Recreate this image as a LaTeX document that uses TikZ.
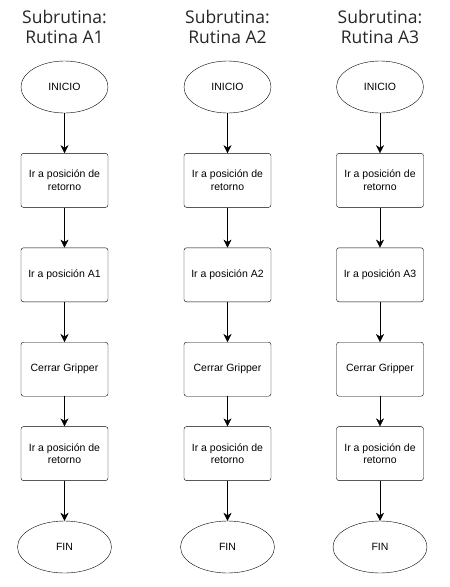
\documentclass[tikz,border=0pt]{standalone}
\usepackage{fontspec}
\setmainfont{Liberation Sans}
\newfontfamily\titlefont{Open Sans}
\usepackage{tikz}
\usetikzlibrary{positioning}
\usetikzlibrary{shapes,calc,arrows.meta}
\tikzset{
	-{Stealth[length=8pt,width=8pt,inset=2.5pt]},auto,node distance = 40pt,
	line width=1.5pt,
	term/.style ={ellipse, draw, minimum width = 87pt, minimum height = 52pt, inner sep=0pt,
	 font=\fontsize{10.5}{12}\selectfont},
	proc/.style = {rectangle, draw, rounded corners=2.5pt, minimum width = 87pt, minimum height = 54pt,
	 inner sep=0pt, align=center, font=\fontsize{10.5}{12.5}\selectfont},
	titulo/.style = {anchor=north, inner sep=0pt, align=center, text=black!85,
	 font=\titlefont\fontsize{17.5}{20}\selectfont},
}
\begin{document}
\begin{tikzpicture}[x=1pt, y=-1pt]
	\useasboundingbox (0,0) rectangle (450,587);
	% Rutina A1
	\node (Titulo1) [titulo] at (64.5,10) {Subrutina:\\Rutina A1};
	\node (Inicio1) [term] at (64.5,87) {INICIO};
	\node (Retorno1) [proc, below = of Inicio1] {Ir a posición de\\retorno};
	\node (Pos1) [proc, below = of Retorno1] {Ir a posición A1};
	\node (Gripper1) [proc, below = of Pos1] {Cerrar Gripper};
	\node (Vuelta1) [proc, below = 30pt of Gripper1] {Ir a posición de\\retorno};
	\node (Fin1) [term, minimum width = 94pt, below = of Vuelta1] {FIN};
	\path (Inicio1) edge (Retorno1);
	\path (Retorno1) edge (Pos1);
	\path (Pos1) edge (Gripper1);
	\path (Gripper1) edge (Vuelta1);
	\path (Vuelta1) edge (Fin1);
	% Rutina A2
	\node (Titulo2) [titulo] at (227.5,10) {Subrutina:\\Rutina A2};
	\node (Inicio2) [term] at (227.5,87) {INICIO};
	\node (Retorno2) [proc, below = of Inicio2] {Ir a posición de\\retorno};
	\node (Pos2) [proc, below = of Retorno2] {Ir a posición A2};
	\node (Gripper2) [proc, below = of Pos2] {Cerrar Gripper};
	\node (Vuelta2) [proc, below = 30pt of Gripper2] {Ir a posición de\\retorno};
	\node (Fin2) [term, minimum width = 94pt, below = of Vuelta2] {FIN};
	\path (Inicio2) edge (Retorno2);
	\path (Retorno2) edge (Pos2);
	\path (Pos2) edge (Gripper2);
	\path (Gripper2) edge (Vuelta2);
	\path (Vuelta2) edge (Fin2);
	% Rutina A3
	\node (Titulo3) [titulo] at (380,10) {Subrutina:\\Rutina A3};
	\node (Inicio3) [term] at (380,87) {INICIO};
	\node (Retorno3) [proc, below = of Inicio3] {Ir a posición de\\retorno};
	\node (Pos3) [proc, below = of Retorno3] {Ir a posición A3};
	\node (Gripper3) [proc, below = of Pos3] {Cerrar Gripper};
	\node (Vuelta3) [proc, below = 30pt of Gripper3] {Ir a posición de\\retorno};
	\node (Fin3) [term, minimum width = 94pt, below = of Vuelta3] {FIN};
	\path (Inicio3) edge (Retorno3);
	\path (Retorno3) edge (Pos3);
	\path (Pos3) edge (Gripper3);
	\path (Gripper3) edge (Vuelta3);
	\path (Vuelta3) edge (Fin3);
\end{tikzpicture}
\end{document}
